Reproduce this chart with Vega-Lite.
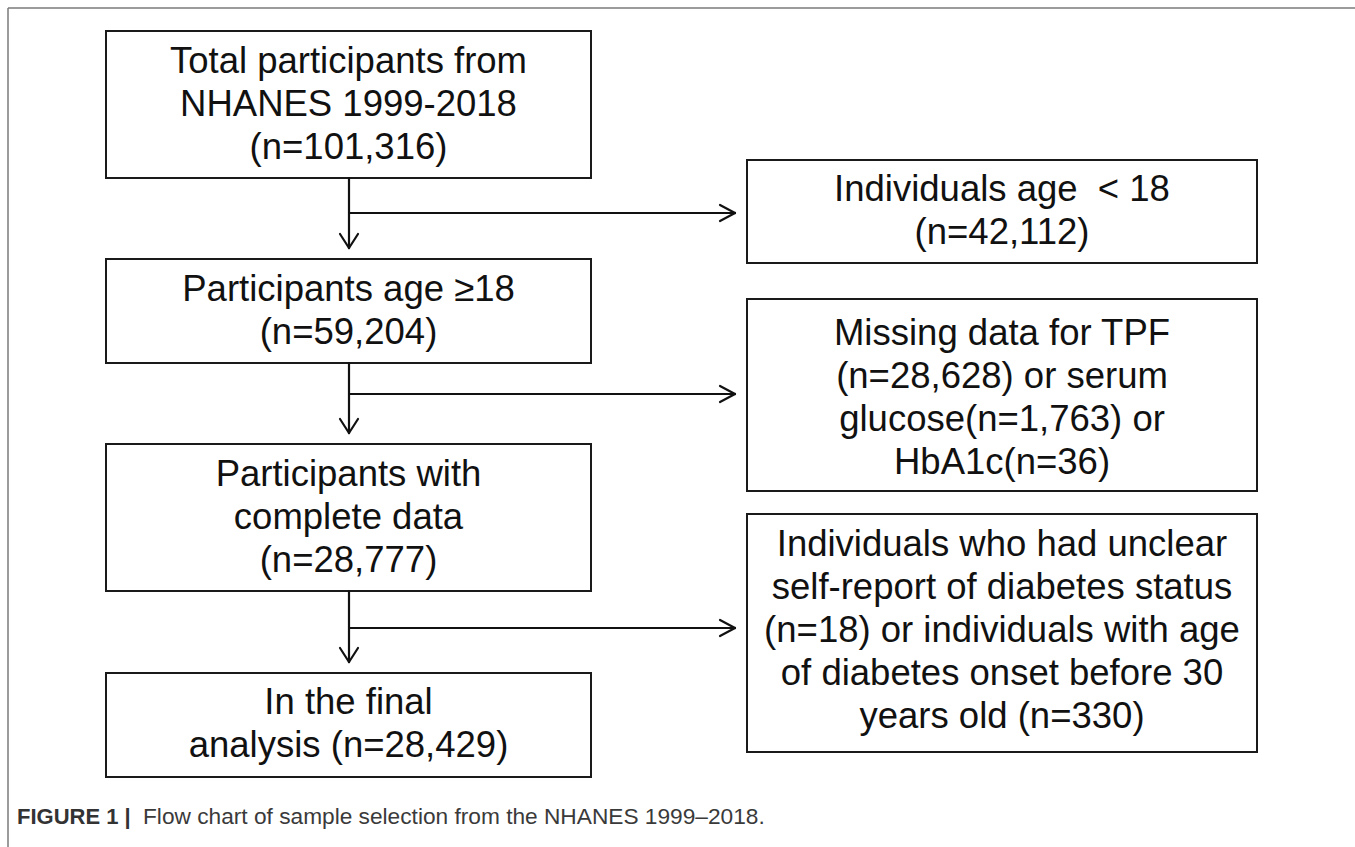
{
  "$schema": "https://vega.github.io/schema/vega-lite/v6.json",
  "width": 1355,
  "height": 847,
  "autosize": {"type": "none"},
  "padding": 0,
  "background": "white",
  "config": {"view": {"stroke": null}},
  "datasets": {
    "frame": [
      {"x1": 8, "y1": 8, "x2": 1355, "y2": 8},
      {"x1": 8, "y1": 8, "x2": 8, "y2": 847}
    ],
    "boxes": [
      {"id": "b1", "x1": 106, "x2": 591, "y1": 31, "y2": 178},
      {"id": "b2", "x1": 747, "x2": 1257, "y1": 160, "y2": 263},
      {"id": "b3", "x1": 106, "x2": 591, "y1": 259, "y2": 363},
      {"id": "b4", "x1": 747, "x2": 1257, "y1": 299, "y2": 491},
      {"id": "b5", "x1": 106, "x2": 591, "y1": 444, "y2": 591},
      {"id": "b6", "x1": 747, "x2": 1257, "y1": 514, "y2": 752},
      {"id": "b7", "x1": 106, "x2": 591, "y1": 673, "y2": 777}
    ],
    "links": [
      {"x1": 349, "y1": 178, "x2": 349, "y2": 248},
      {"x1": 340, "y1": 234, "x2": 349, "y2": 248},
      {"x1": 358, "y1": 234, "x2": 349, "y2": 248},
      {"x1": 349, "y1": 213, "x2": 735, "y2": 213},
      {"x1": 720, "y1": 205, "x2": 735, "y2": 213},
      {"x1": 720, "y1": 221, "x2": 735, "y2": 213},
      {"x1": 349, "y1": 363, "x2": 349, "y2": 433},
      {"x1": 340, "y1": 419, "x2": 349, "y2": 433},
      {"x1": 358, "y1": 419, "x2": 349, "y2": 433},
      {"x1": 349, "y1": 394, "x2": 735, "y2": 394},
      {"x1": 720, "y1": 386, "x2": 735, "y2": 394},
      {"x1": 720, "y1": 402, "x2": 735, "y2": 394},
      {"x1": 349, "y1": 591, "x2": 349, "y2": 662},
      {"x1": 340, "y1": 648, "x2": 349, "y2": 662},
      {"x1": 358, "y1": 648, "x2": 349, "y2": 662},
      {"x1": 349, "y1": 628, "x2": 735, "y2": 628},
      {"x1": 720, "y1": 620, "x2": 735, "y2": 628},
      {"x1": 720, "y1": 636, "x2": 735, "y2": 628}
    ],
    "labels": [
      {"label": "Total participants from\nNHANES 1999-2018\n(n=101,316)", "cx": 348.5, "cy": 62},
      {"label": "Individuals age\u00a0 < 18\n(n=42,112)", "cx": 1002, "cy": 190},
      {"label": "Participants age ≥18\n(n=59,204)", "cx": 348.5, "cy": 290},
      {"label": "Missing data for TPF\n(n=28,628) or serum\nglucose(n=1,763) or\nHbA1c(n=36)", "cx": 1002, "cy": 334},
      {"label": "Participants with\ncomplete data\n(n=28,777)", "cx": 348.5, "cy": 475},
      {"label": "Individuals who had unclear\nself-report of diabetes status\n(n=18) or individuals with age\nof diabetes onset before 30\nyears old (n=330)", "cx": 1002, "cy": 545},
      {"label": "In the final\nanalysis (n=28,429)", "cx": 348.5, "cy": 703}
    ],
    "caption_bold": [{"label": "FIGURE 1 |", "cx": 17, "cy": 817}],
    "caption_text": [{"label": "Flow chart of sample selection from the NHANES 1999–2018.", "cx": 143, "cy": 817}]
  },
  "layer": [
    {
      "data": {"name": "frame"},
      "mark": {"type": "rule", "color": "#7a7a7a", "strokeWidth": 1.5},
      "encoding": {
        "x": {"field": "x1", "type": "quantitative", "scale": {"domain": [0, 1355], "nice": false, "zero": false}, "axis": null},
        "x2": {"field": "x2"},
        "y": {"field": "y1", "type": "quantitative", "scale": {"domain": [0, 847], "nice": false, "zero": false, "reverse": true}, "axis": null},
        "y2": {"field": "y2"}
      }
    },
    {
      "data": {"name": "boxes"},
      "mark": {"type": "rect", "fill": "white", "stroke": "#1a1a1a", "strokeWidth": 2},
      "encoding": {
        "x": {"field": "x1", "type": "quantitative", "axis": null},
        "x2": {"field": "x2"},
        "y": {"field": "y1", "type": "quantitative", "axis": null},
        "y2": {"field": "y2"}
      }
    },
    {
      "data": {"name": "links"},
      "mark": {"type": "rule", "color": "#111111", "strokeWidth": 2.2, "strokeCap": "round"},
      "encoding": {
        "x": {"field": "x1", "type": "quantitative", "axis": null},
        "x2": {"field": "x2"},
        "y": {"field": "y1", "type": "quantitative", "axis": null},
        "y2": {"field": "y2"}
      }
    },
    {
      "data": {"name": "labels"},
      "mark": {"type": "text", "font": "Liberation Sans", "fontSize": 36.5, "lineHeight": 43, "lineBreak": "\n", "align": "center", "baseline": "middle", "color": "#111111"},
      "encoding": {
        "x": {"field": "cx", "type": "quantitative", "axis": null},
        "y": {"field": "cy", "type": "quantitative", "axis": null},
        "text": {"field": "label"}
      }
    },
    {
      "data": {"name": "caption_bold"},
      "mark": {"type": "text", "font": "Liberation Sans", "fontSize": 22, "fontWeight": "bold", "align": "left", "baseline": "middle", "color": "#333333"},
      "encoding": {
        "x": {"field": "cx", "type": "quantitative", "axis": null},
        "y": {"field": "cy", "type": "quantitative", "axis": null},
        "text": {"field": "label"}
      }
    },
    {
      "data": {"name": "caption_text"},
      "mark": {"type": "text", "font": "Liberation Sans", "fontSize": 22.7, "align": "left", "baseline": "middle", "color": "#3a3a3a"},
      "encoding": {
        "x": {"field": "cx", "type": "quantitative", "axis": null},
        "y": {"field": "cy", "type": "quantitative", "axis": null},
        "text": {"field": "label"}
      }
    }
  ]
}
